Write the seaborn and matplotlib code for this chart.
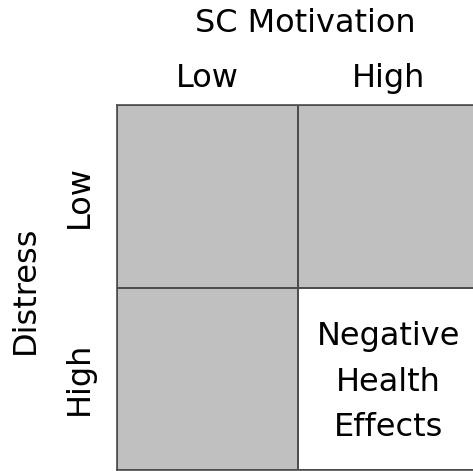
import numpy as np
import matplotlib
matplotlib.use("Agg")
import matplotlib.pyplot as plt
from matplotlib.colors import ListedColormap
import seaborn as sns

# data
motivation_levels = ["Low", "High"]
distress_levels = ["Low", "High"]
# 1 = shaded cell, 0 = outcome cell
shaded = [[1, 1],
          [1, 0]]
cell_text = [["", ""],
             ["", "Negative\nHealth\nEffects"]]

sns.set_style("white")
plt.rcParams['font.family'] = ['DejaVu Sans']
plt.rcParams['text.color'] = 'black'
plt.rcParams['xtick.color'] = 'black'
plt.rcParams['ytick.color'] = 'black'
FS = 23

fig = plt.figure(figsize=(4.73, 4.71), dpi=100)
ax = fig.add_axes([117 / 473, 1 / 471, 362 / 473, 365 / 471])

sns.heatmap(np.array(shaded), ax=ax, cmap=ListedColormap(["white", "#c0c0c0"]),
            vmin=0, vmax=1, cbar=False, linewidths=1.2, linecolor="#4d4d4d",
            annot=np.array(cell_text, dtype=object), fmt="",
            annot_kws={"fontsize": FS, "color": "black", "linespacing": 1.6},
            xticklabels=motivation_levels, yticklabels=distress_levels, square=False)

# shift outcome text slightly down, like the reference
for t in ax.texts:
    x, y = t.get_position()
    t.set_position((x, y + 0.02))

for s in ax.spines.values():
    s.set_visible(True)
    s.set_color("#4d4d4d")
    s.set_linewidth(1.2)

ax.xaxis.tick_top()
ax.tick_params(axis="x", length=0, pad=8, labelsize=FS)
ax.tick_params(axis="y", length=0, pad=16, labelsize=FS)
plt.setp(ax.get_yticklabels(), rotation=90, va="center")

fig.text(305 / 473, 1 - 24 / 471, "SC Motivation", ha="center", va="center", fontsize=FS)
fig.text(25 / 473, 1 - 290 / 471, "Distress", ha="center", va="center", fontsize=FS, rotation=90)

fig.savefig("out.png", dpi=100)
